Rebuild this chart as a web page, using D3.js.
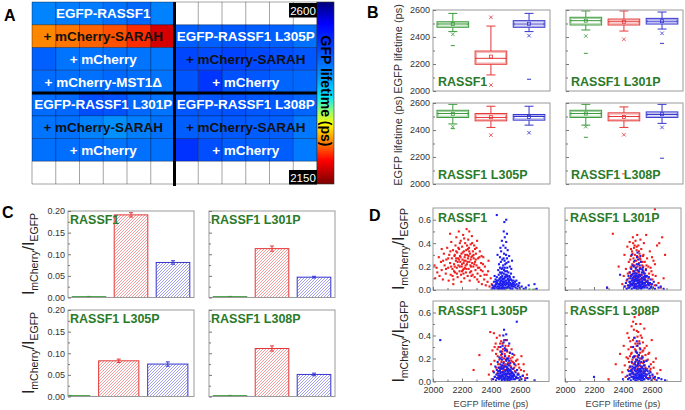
<!DOCTYPE html>
<html><head><meta charset="utf-8">
<script src="https://cdn.jsdelivr.net/npm/d3@7"></script>
<style>body{margin:0;background:#fff}svg{display:block;font-family:"Liberation Sans",Arial,sans-serif}</style>
</head><body><svg id="c" width="685" height="410"></svg>
<script>
// ---------------- DATA ----------------
// Panel A: lifetime heat map (ps), 8 rows x 6 columns per half, null = empty
const cellsLeft = [
  [2430,2437,2437,2447,2455,2432],
  [2256,2250,2243,2237,2224,2190],
  [2462,2445,2445,2448,2445,2442],
  [2452,2450,2448,2455,2450,2445],
  [2452,2455,2478,2475,2455,2445],
  [2445,2448,2432,2420,2435,2447],
  [2447,2450,2450,2445,2448,2447],
  [null,null,null,null,null,null]
];
const cellsRight = [
  [null,null,null,null,null,null],
  [2465,2462,2468,2465,2462,2447],
  [2485,2480,2488,2482,2478,2470],
  [2472,2500,2475,2470,2458,2455],
  [2470,2472,2475,2470,2468,2458],
  [2465,2465,2468,2465,2462,2440],
  [2502,2478,2465,2462,2465,2438],
  [null,null,null,null,null,null]
];
const labelsLeft = ["EGFP-RASSF1","+ mCherry-SARAH","+ mCherry","+ mCherry-MST1\u0394","EGFP-RASSF1 L301P","+ mCherry-SARAH","+ mCherry",""];
const labelsRight = ["","EGFP-RASSF1 L305P","+ mCherry-SARAH","+ mCherry","EGFP-RASSF1 L308P","+ mCherry-SARAH","+ mCherry",""];
const colorbarTicks = [2600, 2150];
const stopsT = [0,0.12,0.40,0.52,0.60,0.67,0.77,0.87,1];
const stopsC = ["#00007a","#0000ff","#0090ff","#00e8ff","#90ff70","#ffff00","#ff8000","#ff0000","#7a0000"];

// Panel B: box stats [min, p1, p5, q1, median, q3, p95, p99, max, mean] for EGFP only / +SARAH / +mCherry
const boxRASSF1 = [[2336,2420,2440,2472,2496,2513,2575,null,null,2496],[null,2044,2119,2198,2242,2296,2481,2546,null,2255],[2087,2410,2440,2472,2496,2521,2575,null,null,2498]];
const boxL301P  = [[2279,2407,2452,2489,2521,2546,2593,null,null,2521],[null,2383,2444,2489,2513,2533,2593,null,null,2513],[2353,2427,2459,2496,2517,2538,2585,null,null,2517]];
const boxL305P  = [[2410,2425,2445,2493,2522,2546,2590,null,null,2520],[null,2362,2419,2468,2493,2522,2576,null,null,2495],[null,2380,2436,2473,2500,2515,2576,null,null,2497]];
const boxL308P  = [[2346,2425,2436,2493,2522,2546,2590,null,null,2522],[2075,2365,2419,2468,2500,2527,2571,null,null,2497],[2191,2419,2449,2493,2515,2534,2590,null,null,2517]];
const boxTicks = [2000,2200,2400,2600];

// Panel C: intensity ratio bars and errors
const barRASSF1 = [0.002,0.191,0.081], errRASSF1 = [0.0005,0.005,0.004];
const barL301P  = [0.002,0.113,0.047], errL301P  = [0.0005,0.006,0.002];
const barL305P  = [0.002,0.0825,0.075], errL305P = [0.0005,0.004,0.005];
const barL308P  = [0.002,0.111,0.051], errL308P  = [0.0005,0.006,0.003];
const barTicks = [0,0.05,0.10,0.15,0.20];

// Panel D: scatter [lifetime ps, ratio]
const redD1 = [[2010,0.21],[2015,0.10],[2025,0.19],[2040,0.28],[2045,0.12],[2055,0.24],[2060,0.17],[2068,0.09],[2075,0.31],[2080,0.21],[2088,0.14],[2092,0.26],[2098,0.36],[2105,0.19],[2108,0.08],[2112,0.30],[2118,0.23],[2122,0.13],[2126,0.41],[2130,0.27],[2134,0.18],[2138,0.34],[2141,0.09],[2145,0.22],[2148,0.29],[2152,0.15],[2155,0.38],[2158,0.25],[2161,0.45],[2164,0.19],[2167,0.32],[2170,0.11],[2172,0.27],[2175,0.21],[2178,0.50],[2180,0.35],[2183,0.16],[2186,0.29],[2188,0.24],[2191,0.42],[2193,0.13],[2196,0.31],[2198,0.20],[2201,0.37],[2203,0.26],[2206,0.17],[2208,0.47],[2211,0.23],[2213,0.33],[2216,0.10],[2218,0.28],[2220,0.19],[2222,0.40],[2225,0.25],[2227,0.15],[2229,0.34],[2232,0.52],[2234,0.22],[2236,0.30],[2239,0.12],[2241,0.27],[2243,0.43],[2246,0.18],[2248,0.36],[2251,0.24],[2253,0.08],[2255,0.31],[2258,0.21],[2260,0.39],[2263,0.16],[2265,0.28],[2268,0.46],[2270,0.23],[2273,0.13],[2275,0.33],[2278,0.20],[2281,0.27],[2284,0.38],[2287,0.11],[2290,0.24],[2293,0.17],[2296,0.31],[2300,0.21],[2304,0.42],[2307,0.14],[2311,0.27],[2315,0.07],[2319,0.19],[2323,0.33],[2327,0.12],[2332,0.23],[2337,0.05],[2342,0.16],[2347,0.28],[2353,0.09],[2358,0.20],[2364,0.04],[2370,0.13],[2376,0.07],[2383,0.25],[2390,0.03],[2398,0.10],[2405,0.05],[2415,0.02],[2118,0.48],[2250,0.50],[2140,0.05],[2195,0.07],[2300,0.36],[2060,0.35],[2200,0.22],[2215,0.25],[2230,0.18],[2245,0.29],[2185,0.20],[2260,0.26],[2210,0.14],[2235,0.38],[2170,0.24],[2280,0.30],[2160,0.33],[2255,0.15],
  [2105,0.27],[2120,0.33],[2135,0.12],[2150,0.30],[2165,0.14],[2175,0.36],[2190,0.28],[2205,0.32],[2212,0.18],[2222,0.30],[2238,0.24],[2250,0.33],[2262,0.20],[2272,0.29],[2285,0.22],[2295,0.26],[2310,0.19],[2320,0.28],[2330,0.17],[2345,0.22],[2150,0.20],[2180,0.26],[2200,0.16],[2225,0.21],[2240,0.35],[2265,0.12],[2290,0.35],[2305,0.09],[2185,0.40],[2215,0.44],[2090,0.18],[2070,0.25],[2125,0.20],[2145,0.16],[2160,0.27],[2270,0.40],[2335,0.29],[2355,0.13],[2380,0.16],[2030,0.15]];
const blueD1 = [[2405,0.01],[2410,0.04],[2415,0.02],[2420,0.07],[2424,0.01],[2428,0.03],[2431,0.09],[2434,0.05],[2437,0.02],[2440,0.11],[2443,0.06],[2446,0.01],[2448,0.08],[2451,0.03],[2453,0.13],[2456,0.05],[2458,0.09],[2460,0.02],[2462,0.15],[2464,0.07],[2466,0.04],[2468,0.11],[2470,0.01],[2472,0.08],[2474,0.18],[2476,0.05],[2478,0.12],[2480,0.03],[2482,0.09],[2484,0.21],[2486,0.06],[2488,0.14],[2490,0.02],[2492,0.10],[2494,0.25],[2496,0.07],[2498,0.16],[2500,0.04],[2502,0.11],[2504,0.30],[2506,0.08],[2508,0.13],[2510,0.02],[2512,0.19],[2514,0.06],[2516,0.10],[2518,0.03],[2520,0.15],[2523,0.07],[2526,0.12],[2529,0.02],[2532,0.09],[2535,0.05],[2538,0.14],[2541,0.03],[2544,0.08],[2548,0.01],[2552,0.06],[2556,0.11],[2560,0.03],[2565,0.07],[2570,0.02],[2576,0.05],[2582,0.01],[2590,0.04],[2600,0.02],[2612,0.03],[2625,0.01],[2640,0.02],[2660,0.04],[2700,0.05],[2715,0.01],[2455,0.22],[2462,0.28],[2470,0.33],[2478,0.26],[2485,0.38],[2490,0.31],[2495,0.45],[2500,0.36],[2505,0.41],[2510,0.27],[2488,0.50],[2475,0.42],[2465,0.36],[2492,0.58],[2440,0.64],[2505,0.60],[2515,0.34],[2520,0.24],[2530,0.20],[2480,0.19],[2468,0.24],[2498,0.22],[2450,0.17],[2525,0.29],[2540,0.18],[2545,0.25],[2445,0.30],[2510,0.48],[2430,0.04],[2445,0.03],[2455,0.01],[2465,0.06],[2475,0.02],[2485,0.04],[2495,0.01],[2505,0.05],[2515,0.02],[2525,0.04],[2535,0.01],[2545,0.04],[2470,0.14],[2490,0.17],[2500,0.13],[2483,0.07],[2460,0.10],[2518,0.09],[2530,0.11],[2555,0.08],[2440,0.08],[2425,0.12],[2500,0.08],[2510,0.16],[2478,0.10],
  [2420,0.03],[2435,0.07],[2450,0.05],[2458,0.03],[2468,0.08],[2473,0.04],[2481,0.01],[2487,0.09],[2493,0.05],[2497,0.11],[2503,0.02],[2508,0.06],[2513,0.12],[2519,0.05],[2524,0.08],[2528,0.04],[2533,0.06],[2537,0.09],[2542,0.05],[2550,0.03],[2558,0.05],[2567,0.04],[2575,0.08],[2585,0.03],[2595,0.06],[2462,0.19],[2477,0.15],[2495,0.19],[2507,0.23],[2487,0.27]];
const greenD1 = [[2600,0.003],[2640,0.002],[2665,0.004],[2690,0.002],[2710,0.003]];
const redD2 = [[2290,0.02],[2330,0.48],[2370,0.20],[2395,0.05],[2405,0.12],[2410,0.30],[2415,0.03],[2420,0.18],[2425,0.08],[2430,0.37],[2433,0.14],[2436,0.02],[2440,0.24],[2443,0.10],[2446,0.41],[2449,0.06],[2452,0.19],[2455,0.29],[2457,0.13],[2460,0.04],[2462,0.33],[2464,0.22],[2466,0.09],[2468,0.45],[2470,0.16],[2472,0.27],[2474,0.05],[2476,0.36],[2478,0.12],[2480,0.21],[2482,0.30],[2484,0.08],[2486,0.42],[2488,0.17],[2490,0.25],[2492,0.03],[2494,0.34],[2496,0.14],[2498,0.47],[2500,0.20],[2502,0.28],[2504,0.07],[2506,0.38],[2508,0.15],[2510,0.23],[2512,0.11],[2514,0.31],[2516,0.04],[2518,0.19],[2520,0.26],[2523,0.09],[2526,0.35],[2529,0.13],[2532,0.21],[2535,0.06],[2538,0.29],[2541,0.16],[2544,0.40],[2547,0.10],[2550,0.24],[2554,0.03],[2558,0.18],[2562,0.12],[2566,0.27],[2570,0.07],[2575,0.20],[2580,0.14],[2585,0.33],[2590,0.05],[2596,0.16],[2603,0.09],[2610,0.25],[2618,0.04],[2620,0.22],[2625,0.12],[2635,0.38],[2645,0.06],[2650,0.40],[2660,0.02],[2670,0.45],[2680,0.10],[2690,0.30],[2620,0.69],[2560,0.47],[2480,0.38],[2455,0.35],[2520,0.43],[2500,0.10],[2470,0.09],[2530,0.05],[2485,0.15],[2510,0.33],[2540,0.20],[2450,0.26],
  [2458,0.20],[2466,0.31],[2475,0.24],[2483,0.11],[2491,0.19],[2497,0.29],[2505,0.16],[2511,0.06],[2517,0.27],[2525,0.18],[2533,0.10],[2541,0.30],[2552,0.14],[2562,0.21],[2575,0.10],[2590,0.19],[2605,0.13],[2470,0.40],[2495,0.37],[2515,0.13],[2445,0.15],[2535,0.24],[2480,0.05],[2555,0.08],[2600,0.28]];
const blueD2 = [[2290,0.02],[2380,0.13],[2410,0.03],[2420,0.06],[2425,0.01],[2430,0.09],[2434,0.04],[2438,0.12],[2441,0.02],[2444,0.07],[2447,0.15],[2450,0.03],[2453,0.10],[2455,0.05],[2457,0.18],[2460,0.01],[2462,0.08],[2464,0.13],[2466,0.04],[2468,0.21],[2470,0.06],[2472,0.11],[2474,0.02],[2476,0.16],[2478,0.07],[2480,0.25],[2482,0.03],[2484,0.12],[2486,0.09],[2488,0.19],[2490,0.05],[2492,0.14],[2494,0.01],[2496,0.28],[2498,0.08],[2500,0.17],[2502,0.03],[2504,0.11],[2506,0.22],[2508,0.06],[2510,0.13],[2512,0.02],[2514,0.09],[2516,0.18],[2518,0.04],[2520,0.12],[2522,0.07],[2524,0.24],[2526,0.01],[2528,0.10],[2530,0.15],[2532,0.05],[2534,0.08],[2536,0.19],[2538,0.03],[2540,0.11],[2543,0.06],[2546,0.14],[2549,0.02],[2552,0.09],[2555,0.04],[2558,0.17],[2561,0.07],[2564,0.12],[2567,0.02],[2570,0.08],[2574,0.05],[2578,0.11],[2582,0.01],[2586,0.06],[2590,0.09],[2595,0.03],[2600,0.05],[2606,0.02],[2612,0.07],[2620,0.01],[2630,0.04],[2645,0.02],[2660,0.03],[2680,0.01],[2460,0.30],[2500,0.32],[2520,0.29],[2475,0.02],[2485,0.05],[2495,0.03],[2505,0.01],[2515,0.05],[2525,0.03],[2535,0.02],[2545,0.04],[2490,0.10],[2510,0.08],[2530,0.07],[2470,0.14],[2550,0.12],[2480,0.09],[2500,0.06],[2520,0.02],[2540,0.15],[2455,0.12],
  [2445,0.04],[2452,0.07],[2461,0.05],[2467,0.10],[2473,0.08],[2479,0.04],[2483,0.14],[2487,0.02],[2491,0.08],[2497,0.12],[2501,0.09],[2507,0.04],[2511,0.16],[2517,0.07],[2521,0.03],[2527,0.13],[2533,0.10],[2537,0.06],[2544,0.09],[2551,0.06],[2557,0.11],[2563,0.04],[2572,0.06],[2580,0.04],[2592,0.02],[2475,0.20],[2495,0.22],[2515,0.21],[2535,0.17],[2505,0.26]];
const redD3 = [[2280,0.10],[2320,0.23],[2385,0.06],[2395,0.43],[2400,0.15],[2405,0.02],[2410,0.27],[2415,0.09],[2420,0.42],[2424,0.18],[2428,0.04],[2432,0.33],[2436,0.12],[2440,0.38],[2443,0.07],[2446,0.22],[2449,0.15],[2452,0.30],[2455,0.03],[2458,0.19],[2461,0.10],[2464,0.26],[2467,0.05],[2470,0.35],[2473,0.14],[2476,0.21],[2479,0.08],[2482,0.28],[2485,0.12],[2488,0.17],[2491,0.02],[2494,0.24],[2497,0.10],[2500,0.31],[2503,0.06],[2506,0.19],[2509,0.13],[2512,0.26],[2515,0.04],[2518,0.16],[2521,0.09],[2524,0.22],[2527,0.03],[2530,0.14],[2534,0.20],[2538,0.07],[2542,0.28],[2546,0.11],[2550,0.17],[2555,0.05],[2560,0.23],[2565,0.09],[2570,0.14],[2576,0.03],[2582,0.19],[2588,0.07],[2595,0.12],[2602,0.02],[2610,0.22],[2618,0.05],[2627,0.09],[2636,0.03],[2648,0.06],[2460,0.40],[2480,0.33],[2510,0.36],[2540,0.18],[2500,0.15],[2470,0.23],[2520,0.07],[2450,0.09],[2490,0.20],[2530,0.25],[2560,0.12],
  [2445,0.28],[2457,0.12],[2463,0.33],[2472,0.17],[2478,0.26],[2484,0.09],[2492,0.14],[2498,0.22],[2505,0.28],[2511,0.11],[2517,0.20],[2523,0.15],[2529,0.09],[2536,0.13],[2548,0.21],[2558,0.16],[2572,0.18],[2590,0.15],[2606,0.10],[2625,0.15],[2435,0.24],[2425,0.30],[2490,0.36],[2520,0.31],[2470,0.12]];
const blueD3 = [[2050,0.36],[2415,0.02],[2420,0.08],[2425,0.04],[2430,0.13],[2434,0.01],[2437,0.06],[2440,0.10],[2443,0.03],[2446,0.17],[2449,0.07],[2452,0.12],[2455,0.02],[2458,0.21],[2460,0.05],[2462,0.09],[2464,0.15],[2466,0.03],[2468,0.26],[2470,0.08],[2472,0.13],[2474,0.01],[2476,0.19],[2478,0.06],[2480,0.31],[2482,0.11],[2484,0.04],[2486,0.16],[2488,0.08],[2490,0.45],[2492,0.13],[2494,0.03],[2496,0.22],[2498,0.07],[2500,0.36],[2502,0.10],[2504,0.02],[2506,0.18],[2508,0.06],[2510,0.27],[2512,0.12],[2514,0.04],[2516,0.09],[2518,0.20],[2520,0.03],[2522,0.14],[2524,0.07],[2526,0.33],[2528,0.01],[2530,0.10],[2533,0.16],[2536,0.05],[2539,0.12],[2542,0.02],[2545,0.08],[2548,0.24],[2551,0.04],[2554,0.11],[2558,0.06],[2562,0.15],[2566,0.02],[2570,0.08],[2574,0.04],[2578,0.52],[2580,0.10],[2585,0.03],[2590,0.06],[2596,0.01],[2602,0.04],[2610,0.02],[2620,0.05],[2635,0.01],[2650,0.03],[2700,0.01],[2485,0.40],[2495,0.29],[2505,0.41],[2475,0.02],[2485,0.06],[2495,0.01],[2505,0.05],[2515,0.01],[2525,0.04],[2535,0.02],[2545,0.05],[2460,0.12],[2480,0.14],[2500,0.09],[2520,0.11],[2540,0.07],[2470,0.04],[2490,0.02],[2510,0.07],[2530,0.03],[2555,0.02],[2450,0.05],[2515,0.15],[2465,0.20],
  [2445,0.03],[2451,0.09],[2457,0.05],[2463,0.07],[2469,0.11],[2475,0.05],[2481,0.08],[2487,0.12],[2493,0.06],[2499,0.04],[2503,0.13],[2509,0.10],[2513,0.02],[2519,0.07],[2523,0.10],[2529,0.06],[2537,0.09],[2543,0.04],[2551,0.07],[2561,0.05],[2571,0.03],[2583,0.06],[2475,0.24],[2497,0.27],[2511,0.20],[2487,0.34],[2525,0.18],[2503,0.19],[2465,0.30],[2531,0.25]];
const redD4 = [[2300,0.02],[2350,0.15],[2380,0.24],[2395,0.08],[2405,0.31],[2412,0.14],[2418,0.04],[2424,0.21],[2430,0.42],[2434,0.10],[2438,0.28],[2442,0.17],[2446,0.06],[2450,0.35],[2453,0.13],[2456,0.24],[2459,0.48],[2462,0.09],[2465,0.19],[2468,0.30],[2471,0.04],[2474,0.15],[2477,0.38],[2480,0.56],[2483,0.22],[2486,0.11],[2489,0.27],[2492,0.07],[2495,0.44],[2498,0.18],[2501,0.33],[2504,0.13],[2507,0.23],[2510,0.58],[2513,0.09],[2516,0.29],[2519,0.16],[2522,0.40],[2525,0.05],[2528,0.20],[2531,0.12],[2534,0.26],[2537,0.34],[2540,0.08],[2543,0.18],[2547,0.46],[2551,0.14],[2555,0.23],[2559,0.06],[2563,0.31],[2567,0.11],[2571,0.19],[2576,0.03],[2581,0.25],[2586,0.09],[2592,0.15],[2598,0.36],[2604,0.05],[2611,0.12],[2619,0.02],[2627,0.20],[2636,0.07],[2646,0.03],[2658,0.10],[2470,0.52],[2490,0.50],[2500,0.10],[2520,0.05],[2460,0.25],[2480,0.16],[2530,0.38],[2445,0.12],[2505,0.43],[2540,0.27],[2470,0.07],[2515,0.20],[2485,0.33],[2555,0.12],[2495,0.25],[2435,0.20],
  [2448,0.22],[2455,0.30],[2463,0.16],[2469,0.36],[2476,0.21],[2482,0.28],[2488,0.14],[2494,0.31],[2499,0.22],[2506,0.17],[2512,0.35],[2518,0.25],[2524,0.13],[2532,0.22],[2539,0.16],[2549,0.29],[2561,0.18],[2575,0.24],[2590,0.11],[2610,0.17],[2440,0.38],[2475,0.45],[2520,0.50],[2500,0.39],[2460,0.04]];
const blueD4 = [[2200,0.04],[2400,0.02],[2430,0.05],[2435,0.02],[2440,0.09],[2444,0.03],[2448,0.13],[2451,0.06],[2454,0.01],[2457,0.10],[2460,0.17],[2463,0.04],[2466,0.08],[2469,0.21],[2472,0.02],[2475,0.12],[2477,0.06],[2480,0.38],[2482,0.15],[2484,0.03],[2486,0.09],[2488,0.26],[2490,0.05],[2492,0.13],[2494,0.01],[2496,0.19],[2498,0.07],[2500,0.31],[2502,0.11],[2504,0.03],[2506,0.16],[2508,0.06],[2510,0.23],[2512,0.09],[2514,0.02],[2516,0.14],[2518,0.05],[2520,0.28],[2522,0.10],[2524,0.03],[2526,0.17],[2528,0.07],[2530,0.12],[2533,0.01],[2536,0.21],[2539,0.05],[2542,0.09],[2545,0.14],[2548,0.02],[2551,0.07],[2554,0.11],[2558,0.04],[2562,0.18],[2566,0.06],[2570,0.09],[2575,0.02],[2580,0.13],[2585,0.05],[2590,0.08],[2596,0.01],[2603,0.06],[2610,0.03],[2620,0.04],[2632,0.01],[2645,0.03],[2665,0.02],[2690,0.01],[2470,0.30],[2495,0.35],[2515,0.33],[2475,0.04],[2485,0.01],[2495,0.05],[2505,0.02],[2515,0.06],[2525,0.01],[2535,0.04],[2545,0.02],[2460,0.07],[2480,0.10],[2500,0.14],[2520,0.08],[2540,0.11],[2490,0.19],[2510,0.04],[2530,0.06],[2550,0.05],[2560,0.10],[2465,0.13],[2505,0.08],
  [2447,0.06],[2453,0.09],[2459,0.04],[2465,0.11],[2471,0.07],[2478,0.03],[2483,0.12],[2487,0.06],[2493,0.09],[2497,0.03],[2503,0.15],[2507,0.10],[2513,0.06],[2517,0.11],[2523,0.05],[2527,0.09],[2533,0.13],[2537,0.03],[2543,0.07],[2553,0.09],[2565,0.03],[2578,0.07],[2588,0.03],[2478,0.22],[2498,0.25],[2512,0.18],[2528,0.20],[2485,0.17],[2545,0.17],[2505,0.21]];
const scatterYTicks = [0,0.2,0.4,0.6];
const scatterXTicks = [2000,2200,2400,2600];

// ---------------- DRAWING ----------------
const FONT = '"Liberation Sans", Arial, sans-serif';
const GREEN = "#3a9a3a", RED = "#e53535", BLUE = "#3535d0", LABELG = "#2a7a2a", FRAME = "#9a9a9a";
const svg = d3.select("#c");
const defs = svg.append("defs");

function hatch(id, color){
  const p = defs.append("pattern").attr("id",id).attr("patternUnits","userSpaceOnUse").attr("width",3).attr("height",3);
  p.append("path").attr("d","M-0.75,0.75 L0.75,-0.75 M0,3 L3,0 M2.25,3.75 L3.75,2.25").attr("stroke",color).attr("stroke-width",0.75);
}
hatch("hR","#ef7f7f"); hatch("hB","#7f7fe6"); hatch("hG","#80c080");
const grad = defs.append("linearGradient").attr("id","cbar").attr("x1",0).attr("y1",0).attr("x2",0).attr("y2",1);
stopsT.forEach((t,i)=>grad.append("stop").attr("offset",t).attr("stop-color",stopsC[i]));

function letter(t,x,y){
  svg.append("text").attr("x",x).attr("y",y).attr("font-size",16).attr("font-weight","bold").attr("fill","#000").attr("font-family",FONT).text(t);
}
letter("A",4,21); letter("B",367,18); letter("C",2,218); letter("D",369,221);

// ----- Panel A -----
const colorScale = d3.scaleLinear().domain(stopsT.map(t=>2600-t*450)).range(stopsC).interpolate(d3.interpolateRgb);
const colX = d3.scaleBand().domain(d3.range(12)).range([32,317]);
const rowY = d3.scaleBand().domain(d3.range(8)).range([2,184]);
const gA = svg.append("g");
[cellsLeft, cellsRight].forEach((half,h)=>{
  half.forEach((row,r)=>{
    row.forEach((v,c)=>{
      gA.append("rect").attr("x",colX(h*6+c)).attr("y",rowY(r))
        .attr("width",colX.bandwidth()+0.3).attr("height",rowY.bandwidth()+0.3)
        .attr("fill", v==null ? "#fff" : colorScale(v));
    });
  });
});
for(let i=0;i<=12;i++){
  const x = 32 + i*colX.step();
  gA.append("line").attr("x1",x).attr("x2",x).attr("y1",2).attr("y2",184).attr("stroke","rgba(0,0,0,0.45)").attr("stroke-width",0.8);
}
for(let j=0;j<=8;j++){
  const y = 2 + j*rowY.step();
  gA.append("line").attr("x1",32).attr("x2",317).attr("y1",y).attr("y2",y).attr("stroke","rgba(0,0,0,0.45)").attr("stroke-width",0.8);
}
gA.append("line").attr("x1",colX(6)).attr("x2",colX(6)).attr("y1",2).attr("y2",186).attr("stroke","#000").attr("stroke-width",3);
gA.append("line").attr("x1",32).attr("x2",317).attr("y1",rowY(4)).attr("y2",rowY(4)).attr("stroke","#000").attr("stroke-width",3);
[labelsLeft, labelsRight].forEach((labs,h)=>{
  labs.forEach((t,r)=>{
    if(!t) return;
    const cx = h===0 ? (colX(0)+colX(6))/2 : (colX(6)+317)/2;
    gA.append("text").attr("x",cx).attr("y",rowY(r)+rowY.bandwidth()/2+5)
      .attr("text-anchor","middle").attr("font-size",13.5).attr("font-weight","bold").attr("font-family",FONT)
      .attr("fill", t.indexOf("SARAH")>=0 ? "#111" : "#fff").text(t);
  });
});
// colour bar
gA.append("rect").attr("x",317).attr("y",2).attr("width",17).attr("height",182).attr("fill","url(#cbar)").attr("stroke","#333").attr("stroke-width",0.6);
const cbY = d3.scaleLinear().domain([2600,2150]).range([2,184]);
colorbarTicks.forEach((v,i)=>{
  const y0 = i===0 ? cbY(v)+1 : cbY(v)-14;
  gA.append("rect").attr("x",289).attr("y",y0).attr("width",28).attr("height",14.5).attr("fill","#000");
  gA.append("text").attr("x",303).attr("y",y0+11.5).attr("text-anchor","middle").attr("font-size",11.5).attr("fill","#fff").attr("font-family",FONT).text(v);
});
gA.append("text").attr("transform","translate(326,91) rotate(90)").attr("text-anchor","middle").attr("dominant-baseline","central")
  .attr("font-size",14).attr("font-weight","bold").attr("font-family",FONT).attr("fill","#000").text("GFP lifetime (ps)");

// ----- helpers -----
function yAxis(g, y, x0, major, minor, fmt, showLabels, pad){
  const a = g.append("g").attr("transform",`translate(${x0},0)`)
    .call(d3.axisLeft(y).tickValues(major).tickSizeInner(-3).tickSizeOuter(0).tickPadding(pad).tickFormat(showLabels ? fmt : ()=>""));
  a.select(".domain").remove();
  a.selectAll("line").attr("stroke","#777");
  a.selectAll("text").attr("font-size",9).attr("fill","#333").attr("font-family",FONT);
  const m = g.append("g").attr("transform",`translate(${x0},0)`)
    .call(d3.axisLeft(y).tickValues(minor).tickSizeInner(-2).tickSizeOuter(0).tickFormat(()=>""));
  m.select(".domain").remove();
  m.selectAll("line").attr("stroke","#777");
}
function frame(g,x,y,w,h){
  g.append("rect").attr("x",x).attr("y",y).attr("width",w).attr("height",h).attr("fill","none").attr("stroke",FRAME).attr("stroke-width",1);
}
function panelLabel(g,t,x,y){
  g.append("text").attr("x",x).attr("y",y).attr("font-size",12.5).attr("font-weight","bold").attr("font-family",FONT).attr("fill",LABELG).text(t);
}
function ratioLabel(x,y){
  const t = svg.append("text").attr("transform",`translate(${x},${y}) rotate(-90)`).attr("text-anchor","middle")
    .attr("font-size",16).attr("fill","#222").attr("font-family",FONT);
  t.append("tspan").text("I");
  t.append("tspan").attr("font-size",10.5).attr("dy",4).text("mCherry");
  t.append("tspan").attr("dy",-4).text("/I");
  t.append("tspan").attr("font-size",10.5).attr("dy",4).text("EGFP");
}
let clipId = 0;
function clip(x,y,w,h){
  const id = "cl"+(clipId++);
  defs.append("clipPath").attr("id",id).append("rect").attr("x",x).attr("y",y).attr("width",w).attr("height",h);
  return `url(#${id})`;
}

// ----- Panel B -----
const seriesColors = [GREEN, RED, BLUE];
function boxPanel(left, top, stats, label, showY){
  const w=117, h=81, g=svg.append("g");
  const x = d3.scaleLinear().domain([0.48,3.55]).range([left,left+w]);
  const y = d3.scaleLinear().domain([2000,2600]).range([top+h, top]);
  const bw = x(1.83)-x(1);
  stats.forEach((s,i)=>{
    const c = seriesColors[i], cx = x(i+1);
    const [mn,p1,p5,q1,md,q3,p95,p99,mx,mean] = s;
    const gg = g.append("g").attr("stroke",c).attr("fill","none").attr("stroke-width",1);
    gg.append("line").attr("x1",cx).attr("x2",cx).attr("y1",y(q3)).attr("y2",y(p95));
    gg.append("line").attr("x1",cx).attr("x2",cx).attr("y1",y(q1)).attr("y2",y(p5));
    gg.append("line").attr("x1",cx-4.5).attr("x2",cx+4.5).attr("y1",y(p95)).attr("y2",y(p95));
    gg.append("line").attr("x1",cx-4.5).attr("x2",cx+4.5).attr("y1",y(p5)).attr("y2",y(p5));
    gg.append("rect").attr("x",cx-bw/2).attr("y",y(q3)).attr("width",bw).attr("height",y(q1)-y(q3)).attr("fill","#fff");
    gg.append("rect").attr("x",cx-bw/2+1.2).attr("y",y(q3)+1.2).attr("width",bw-2.4).attr("height",Math.max(0,y(q1)-y(q3)-2.4)).attr("stroke-opacity",0.45);
    gg.append("line").attr("x1",cx-bw/2).attr("x2",cx+bw/2).attr("y1",y(md)).attr("y2",y(md));
    gg.append("rect").attr("x",cx-1.5).attr("y",y(mean)-1.5).attr("width",3).attr("height",3).attr("stroke-width",0.8);
    [p1,p99].forEach(v=>{ if(v==null) return; const yy=y(v);
      gg.append("path").attr("d",`M${cx-1.8},${yy-1.8}L${cx+1.8},${yy+1.8}M${cx-1.8},${yy+1.8}L${cx+1.8},${yy-1.8}`).attr("stroke-width",0.8); });
    [mn,mx].forEach(v=>{ if(v==null) return; const yy=y(v);
      gg.append("line").attr("x1",cx-2).attr("x2",cx+2).attr("y1",yy).attr("y2",yy); });
  });
  frame(g,left,top,w,h);
  yAxis(g,y,left,boxTicks,[2100,2300,2500],d3.format("d"),showY,3);
  panelLabel(g,label,left+5,top+h-5);
}
boxPanel(433,10,boxRASSF1,"RASSF1",true);
boxPanel(566,10,boxL301P,"RASSF1 L301P",false);
boxPanel(433,103,boxL305P,"RASSF1 L305P",true);
boxPanel(566,103,boxL308P,"RASSF1 L308P",false);
[49,141].forEach(cy=>{
  svg.append("text").attr("transform",`translate(402,${cy}) rotate(-90)`).attr("text-anchor","middle")
    .attr("font-size",11).attr("fill","#333").attr("font-family",FONT).text("EGFP lifetime (ps)");
});

// ----- Panel C -----
const hatchIds = ["url(#hG)","url(#hR)","url(#hB)"];
function barPanel(left, top, vals, errs, label, showY, dom, bwu){
  const w=126, h=86.5, g=svg.append("g");
  const x = d3.scaleLinear().domain(dom).range([left,left+w]);
  const y = d3.scaleLinear().domain([0,0.2]).range([top+h, top]);
  const bw = x(dom[0]+bwu)-x(dom[0]);
  const bars = g.append("g").attr("clip-path",clip(left,top,w,h));
  vals.forEach((v,i)=>{
    const cx = x(i+1), c = seriesColors[i];
    bars.append("rect").attr("x",cx-bw/2).attr("y",y(v)).attr("width",bw).attr("height",Math.max(0.5,y(0)-y(v)))
      .attr("fill",hatchIds[i]).attr("stroke",c).attr("stroke-width",1);
    const e = errs[i];
    bars.append("line").attr("x1",cx).attr("x2",cx).attr("y1",y(v-e)).attr("y2",y(v+e)).attr("stroke",c).attr("stroke-width",1);
    [v-e,v+e].forEach(t=>bars.append("line").attr("x1",cx-2).attr("x2",cx+2).attr("y1",y(t)).attr("y2",y(t)).attr("stroke",c).attr("stroke-width",1));
  });
  frame(g,left,top,w,h);
  yAxis(g,y,left,barTicks,[0.025,0.075,0.125,0.175],d3.format(".2f"),showY,3);
  panelLabel(g,label,left+2,top+13);
}
barPanel(68,211,barRASSF1,errRASSF1,"RASSF1",true,[0.5,3.5],0.8);
barPanel(209,211,barL301P,errL301P,"RASSF1 L301P",false,[0.5,3.5],0.8);
barPanel(68,310,barL305P,errL305P,"RASSF1 L305P",true,[0.965,3.535],0.82);
barPanel(209,310,barL308P,errL308P,"RASSF1 L308P",false,[0.5,3.5],0.8);
ratioLabel(34,254); ratioLabel(34,353);

// ----- Panel D -----
function scatterPanel(left, top, h, red, blue, green, label, showY, showX){
  const w=116, g=svg.append("g");
  const x = d3.scaleLinear().domain([2000,2800]).range([left,left+w]);
  const y = d3.scaleLinear().domain([0,0.7]).range([top+h, top]);
  const pts = g.append("g").attr("clip-path",clip(left,top,w,h));
  [[green,GREEN],[red,"#f01e1e"],[blue,"#1e1ef0"]].forEach(([arr,c])=>{
    pts.selectAll(null).data(arr).enter().append("rect")
      .attr("x",d=>x(d[0])-1.05).attr("y",d=>y(d[1])-1.05).attr("width",2.1).attr("height",2.1).attr("fill",c);
  });
  frame(g,left,top,w,h);
  yAxis(g,y,left,scatterYTicks,[0.1,0.3,0.5],d3.format(".1f"),showY,2);
  const xa = g.append("g").attr("transform",`translate(0,${top+h})`)
    .call(d3.axisBottom(x).tickValues(scatterXTicks).tickSizeInner(-3).tickSizeOuter(0).tickPadding(5.5).tickFormat(showX ? d3.format("d") : ()=>""));
  xa.select(".domain").remove();
  xa.selectAll("line").attr("stroke","#777");
  xa.selectAll("text").attr("font-size",9).attr("fill","#333").attr("font-family",FONT);
  const xm = g.append("g").attr("transform",`translate(0,${top+h})`)
    .call(d3.axisBottom(x).tickValues([2100,2300,2500,2700]).tickSizeInner(-2).tickSizeOuter(0).tickFormat(()=>""));
  xm.select(".domain").remove(); xm.selectAll("line").attr("stroke","#777");
  panelLabel(g,label,left+5,top+14);
  if(showX){
    g.append("text").attr("x",left+w/2).attr("y",407).attr("text-anchor","middle").attr("font-size",9.2)
      .attr("fill","#444").attr("font-family",FONT).text("EGFP lifetime (ps)");
  }
}
scatterPanel(433,208,82,redD1,blueD1,greenD1,"RASSF1",true,false);
scatterPanel(565,208,82,redD2,blueD2,[],"RASSF1 L301P",false,false);
scatterPanel(433,301,80.5,redD3,blueD3,[],"RASSF1 L305P",true,true);
scatterPanel(565,301,80.5,redD4,blueD4,[],"RASSF1 L308P",false,true);
ratioLabel(403.5,249); ratioLabel(403.5,341.5);
</script></body></html>
